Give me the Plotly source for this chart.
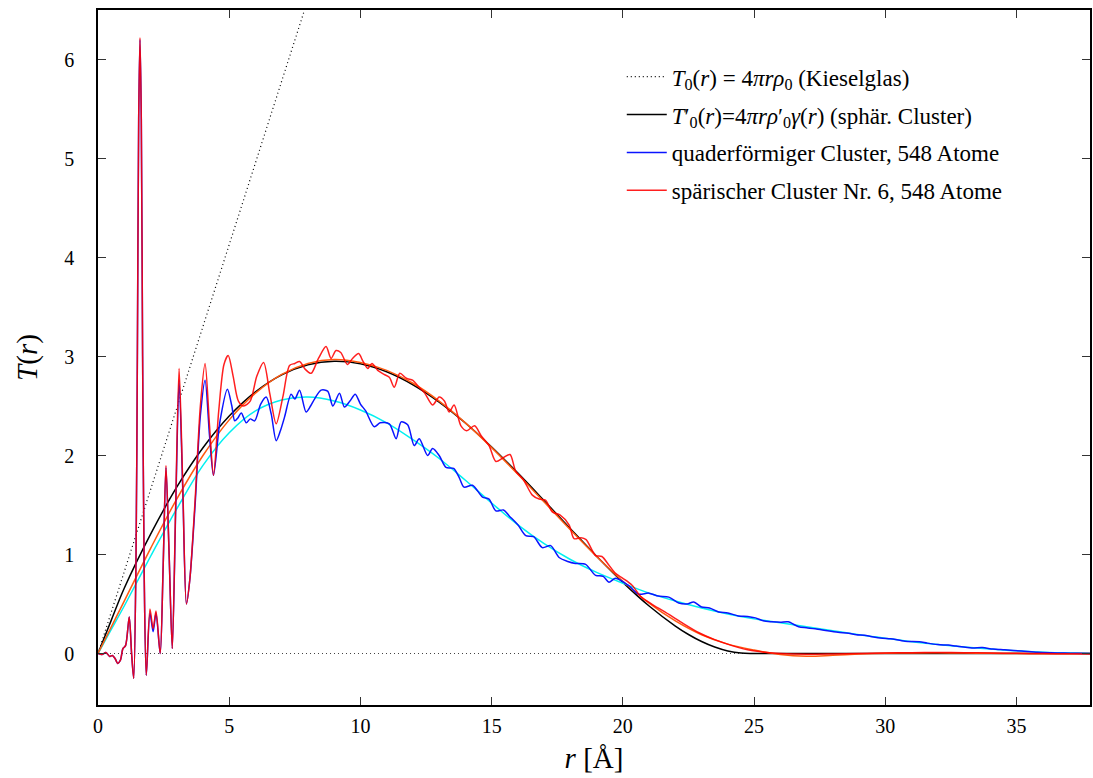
import plotly.graph_objects as go

# ---------------- data ----------------
# dotted reference line T0(r) = 4*pi*r*rho0 (straight line through origin)
t0_r = [0.0, 40.0]
t0_T = [0.0, 33.04]

# black: T0'(r) for spherical cluster
blk_r = [0, 0.5, 1, 2, 3, 4, 5, 6, 7, 8, 9, 10, 11, 12, 13, 14, 15, 16, 17, 18,
         19, 20, 21, 22, 22.5, 23, 23.5, 24, 24.5, 25, 27, 30, 34, 37.8]
blk_T = [0, 0.332, 0.659, 1.203, 1.681, 2.079, 2.399, 2.643, 2.814, 2.916, 2.952,
         2.927, 2.846, 2.715, 2.540, 2.328, 2.086, 1.822, 1.544, 1.261, 0.983,
         0.719, 0.480, 0.277, 0.192, 0.121, 0.065, 0.025, 0.004, 0.0, 0.0, 0.0,
         0.0, 0.0]

# cyan: smooth curve following the cuboid cluster
cya_r = [0, 0.5, 1, 2, 3, 4, 5, 6, 7, 8, 9, 10, 11, 12, 13, 14, 15, 16, 17, 18,
         19, 20, 21, 22, 23, 24, 25, 26, 27, 28, 29, 30, 31, 32, 33, 34, 35, 36,
         37, 37.8]
cya_T = [0, 0.24, 0.48, 0.98, 1.46, 1.90, 2.23, 2.45, 2.56, 2.59, 2.55, 2.46,
         2.33, 2.16, 1.97, 1.75, 1.52, 1.30, 1.11, 0.95, 0.82, 0.71, 0.61, 0.53,
         0.46, 0.40, 0.35, 0.31, 0.27, 0.23, 0.19, 0.155, 0.12, 0.09, 0.065,
         0.045, 0.027, 0.013, 0.004, 0.0]

# orange: smooth curve following the spherical cluster
org_r = [0, 0.5, 1, 2, 3, 4, 5, 6, 7, 8, 9, 10, 11, 12, 13, 14, 15, 16, 17, 18,
         19, 20, 21, 22, 23, 24, 25, 26, 27, 28, 29, 30, 31, 32, 33, 34, 35, 36,
         37, 37.8]
org_T = [0, 0.265, 0.53, 1.06, 1.56, 2.00, 2.36, 2.63, 2.82, 2.93, 2.97, 2.94,
         2.86, 2.73, 2.55, 2.33, 2.08, 1.81, 1.53, 1.25, 0.98, 0.73, 0.51, 0.33,
         0.19, 0.095, 0.035, -0.01, -0.027, -0.018, -0.006, 0.002, 0.006, 0.007,
         0.005, 0.002, 0.0, -0.002, -0.002, -0.001]

# blue: cuboid cluster, 548 atoms
blu_r = [0.0, 0.15, 0.3, 0.45, 0.55, 0.65, 0.75, 0.85, 0.95, 1.05, 1.19, 1.28,
         1.36, 1.45, 1.5, 1.55, 1.6, 1.65, 1.7, 1.76, 1.84, 1.98, 2.1, 2.21, 2.37,
         2.48, 2.59, 2.71, 2.83, 2.96, 3.09, 3.23, 3.37, 3.5, 3.7, 3.9, 4.08,
         4.25, 4.4, 4.65, 4.93, 5.1, 5.21, 5.33, 5.46, 5.65, 5.8, 5.97, 6.2, 6.41,
         6.6, 6.79, 6.95, 7.11, 7.36, 7.5, 7.68, 7.93, 8.1, 8.25, 8.5, 8.75, 8.95,
         9.2, 9.39, 9.6, 9.8, 10.0, 10.2, 10.53, 10.75, 11.1, 11.36, 11.55, 11.8,
         12.05, 12.24, 12.56, 12.75, 13.0, 13.26, 13.55, 13.76, 13.95, 14.27,
         14.65, 14.9, 15.16, 15.45, 15.67, 16.0, 16.3, 16.6, 16.93, 17.25, 17.57,
         17.9, 18.19, 18.58, 18.96, 19.25, 19.47, 19.72, 20.2, 20.6, 20.99, 21.35,
         21.75, 22.13, 22.45, 22.7, 23.0, 23.3, 23.65, 24.0, 24.4, 24.75, 25.05,
         25.35, 25.68, 26.0, 26.3, 26.7, 27.0, 27.33, 27.8, 28.2, 28.6, 28.9,
         29.2, 29.5, 29.9, 30.2, 30.75, 31.3, 31.6, 32.0, 32.4, 32.7, 33.3, 33.7,
         34.1, 34.55, 35.2, 35.8, 36.3, 36.8, 37.3, 37.8]
blu_T = [0.0, -0.01, 0.01, -0.03, -0.02, -0.05, -0.1, -0.07, 0.05, 0.08, 0.37,
         0.0, -0.25, 1.0, 3.0, 5.4, 6.2, 5.4, 3.0, 0.8, -0.22, 0.41, 0.22, 0.41,
         0.0, 0.85, 1.88, 1.0, 0.05, 1.45, 2.76, 1.65, 0.5, 0.75, 1.5, 2.4, 2.76,
         2.2, 1.80, 2.35, 2.67, 2.5, 2.35, 2.38, 2.43, 2.33, 2.37, 2.35, 2.52,
         2.59, 2.42, 2.15, 2.25, 2.39, 2.62, 2.57, 2.66, 2.44, 2.5, 2.57, 2.66,
         2.65, 2.50, 2.63, 2.49, 2.55, 2.62, 2.52, 2.45, 2.29, 2.33, 2.32, 2.17,
         2.34, 2.31, 2.10, 2.17, 2.00, 2.07, 2.0, 1.88, 1.87, 1.78, 1.68, 1.70,
         1.58, 1.56, 1.44, 1.45, 1.39, 1.30, 1.19, 1.18, 1.07, 1.09, 0.97, 0.93,
         0.91, 0.90, 0.79, 0.78, 0.72, 0.76, 0.69, 0.60, 0.61, 0.58, 0.57, 0.51,
         0.50, 0.52, 0.47, 0.46, 0.42, 0.41, 0.38, 0.375, 0.36, 0.33, 0.32, 0.315,
         0.32, 0.27, 0.26, 0.25, 0.23, 0.215, 0.205, 0.19, 0.185, 0.17, 0.155,
         0.15, 0.125, 0.12, 0.105, 0.09, 0.085, 0.075, 0.057, 0.06, 0.045, 0.037,
         0.025, 0.013, 0.008, 0.005, 0.002, 0.0]

# red: spherical cluster no. 6, 548 atoms
red_r = [0.0, 0.15, 0.3, 0.45, 0.55, 0.65, 0.75, 0.85, 0.95, 1.05, 1.19, 1.28,
         1.36, 1.45, 1.5, 1.55, 1.6, 1.65, 1.7, 1.76, 1.84, 1.98, 2.1, 2.21, 2.37,
         2.48, 2.59, 2.71, 2.83, 2.96, 3.09, 3.23, 3.37, 3.5, 3.7, 3.9, 4.08,
         4.25, 4.4, 4.6, 4.8, 4.96, 5.15, 5.35, 5.55, 5.8, 6.05, 6.31, 6.55, 6.79,
         7.05, 7.3, 7.5, 7.68, 7.9, 8.12, 8.4, 8.69, 8.88, 9.07, 9.25, 9.5, 9.7,
         9.93, 10.1, 10.28, 10.44, 10.66, 10.9, 11.1, 11.29, 11.5, 11.75, 12.0,
         12.2, 12.45, 12.75, 13.0, 13.2, 13.38, 13.57, 13.83, 14.05, 14.35, 14.6,
         14.9, 15.16, 15.45, 15.7, 15.92, 16.2, 16.55, 16.81, 17.05, 17.31, 17.6,
         17.95, 18.14, 18.4, 18.6, 18.96, 19.2, 19.45, 19.72, 20.0, 20.35, 20.7,
         21.1, 21.6, 22.2, 22.9, 23.5, 24.16, 24.8, 25.4, 26.0, 27.0, 28.0, 29.0,
         30.0, 31.0, 32.0, 33.0, 34.0, 35.0, 36.0, 37.0, 37.8]
red_T = [0.0, -0.01, 0.01, -0.03, -0.02, -0.05, -0.1, -0.07, 0.05, 0.08, 0.37,
         0.0, -0.25, 1.0, 3.0, 5.4, 6.22, 5.4, 3.0, 0.8, -0.22, 0.45, 0.25, 0.43,
         0.0, 0.85, 1.90, 1.0, 0.05, 1.5, 2.88, 1.7, 0.5, 0.75, 1.55, 2.5, 2.93,
         2.3, 1.80, 2.45, 2.92, 3.01, 2.8, 2.55, 2.5, 2.55, 2.8, 2.94, 2.62, 2.32,
         2.6, 2.91, 2.93, 2.95, 2.87, 2.83, 2.98, 3.10, 2.98, 3.06, 3.04, 2.92,
         2.98, 3.03, 2.95, 2.88, 2.93, 2.86, 2.82, 2.79, 2.69, 2.83, 2.78, 2.76,
         2.70, 2.63, 2.51, 2.59, 2.55, 2.44, 2.51, 2.30, 2.25, 2.30, 2.2, 2.10,
         1.94, 1.98, 2.01, 1.84, 1.76, 1.60, 1.56, 1.55, 1.43, 1.40, 1.30, 1.16,
         1.17, 1.15, 0.99, 0.98, 0.9, 0.81, 0.76, 0.69, 0.57, 0.50, 0.42, 0.32,
         0.21, 0.14, 0.08, 0.035, 0.013, 0.0, -0.008, -0.005, 0.0, 0.005, 0.008,
         0.01, 0.008, 0.005, 0.002, 0.0, -0.003, -0.004]

x_ticks = [0, 5, 10, 15, 20, 25, 30, 35]
y_ticks = [0, 1, 2, 3, 4, 5, 6]

# ---------------- figure ----------------
FONT = "Liberation Serif, Times New Roman, serif"
fig = go.Figure()

fig.add_trace(go.Scatter(
    x=t0_r, y=t0_T, mode="lines", legendgroup="g1",
    line=dict(color="black", width=1.2, dash="1px,3px"),
    name="<i>T</i><sub>0</sub>(<i>r</i>) = 4<i>πrρ</i><sub>0</sub> (Kieselglas)"))
fig.add_trace(go.Scatter(
    x=blk_r, y=blk_T, mode="lines", line_shape="spline", legendgroup="g2",
    line=dict(color="black", width=1.5),
    name="<i>T</i>′<sub>0</sub>(<i>r</i>)=4<i>πrρ</i>′<sub>0</sub><i>γ</i>(<i>r</i>) (sphär. Cluster)"))
fig.add_trace(go.Scatter(
    x=cya_r, y=cya_T, mode="lines", line_shape="spline",
    line=dict(color="#00f0f0", width=1.5), showlegend=False, name="cyan"))
fig.add_trace(go.Scatter(
    x=org_r, y=org_T, mode="lines", line_shape="spline",
    line=dict(color="#ff5a10", width=1.5), showlegend=False, name="orange"))
fig.add_trace(go.Scatter(
    x=blu_r, y=blu_T, mode="lines", legendgroup="g3",
    line=dict(color="#0a14ff", width=1.5, shape="spline", smoothing=0.8),
    name="quaderförmiger Cluster, 548 Atome"))
fig.add_trace(go.Scatter(
    x=red_r, y=red_T, mode="lines", legendgroup="g4",
    line=dict(color="rgba(255,0,0,0.88)", width=1.5, shape="spline", smoothing=0.8),
    name="spärischer Cluster Nr. 6, 548 Atome"))

# dotted zero line
fig.add_shape(type="line", xref="paper", yref="y", x0=0, x1=1, y0=0, y1=0,
              line=dict(color="#444", width=1.2, dash="1px,3px"), layer="below")

axis_common = dict(showline=True, linecolor="black", linewidth=1.5, mirror="ticks",
                   ticks="inside", ticklen=8, tickwidth=1, tickcolor="#333",
                   showgrid=False, zeroline=False,
                   tickfont=dict(family=FONT, size=20, color="black"))

fig.update_layout(
    width=1093, height=778,
    margin=dict(l=98, r=1, t=10, b=73),
    paper_bgcolor="white", plot_bgcolor="white",
    font=dict(family=FONT, color="black"),
    xaxis=dict(range=[0, 37.8], tickvals=x_ticks, **axis_common,
               ticklabelstandoff=2,
               title=dict(text="<i>r</i> [Å]", font=dict(family=FONT, size=29), standoff=12)),
    yaxis=dict(range=[-0.52, 6.5], tickvals=y_ticks, **axis_common,
               ticklabelstandoff=18,
               title=dict(text="<i>T</i>(<i>r</i>)", font=dict(family=FONT, size=29), standoff=18)),
    legend=dict(x=0.528, y=0.935, xanchor="left", yanchor="top",
                bgcolor="rgba(0,0,0,0)", borderwidth=0,
                traceorder="grouped", tracegroupgap=5,
                font=dict(family=FONT, size=23, color="black"),
                itemwidth=40),
    showlegend=True,
)

fig.write_html("out.html")
